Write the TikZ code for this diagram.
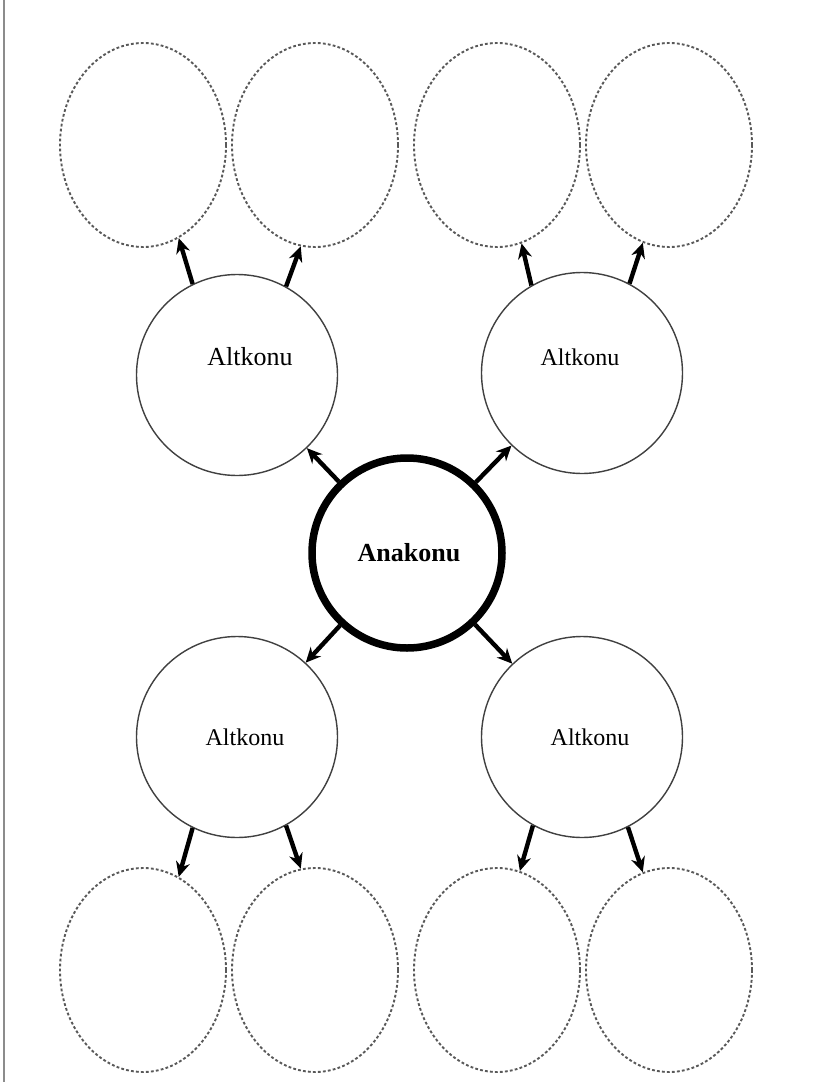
\documentclass[tikz,border=0pt]{standalone}
\usepackage{fontspec}
\setmainfont{Liberation Serif}
\usetikzlibrary{shapes.geometric,arrows.meta}
\begin{document}
\begin{tikzpicture}[x=1pt,y=-1pt,
  sub/.style={circle,draw=black!75,line width=1.4pt,minimum size=201pt,inner sep=0pt},
  main/.style={circle,draw=black,line width=7.5pt,minimum size=190pt,inner sep=0pt},
  leaf/.style={ellipse,draw=black!65,line width=1.9pt,dash pattern=on 2.8pt off 2.2pt,minimum width=166pt,minimum height=204pt,inner sep=0pt},
  arr/.style={line width=4.4pt,-{Stealth[length=15pt,width=14pt]}},
  lbl/.style={font=\fontsize{24}{28}\selectfont,inner sep=0pt}
]
\useasboundingbox (0,0) rectangle (813,1082);
\fill[white] (0,0) rectangle (813,1082);
\draw[black!45,line width=2.5pt] (4,0) -- (4,1082);

% dashed leaves
\node[leaf] (e1) at (143,145) {};
\node[leaf] (e2) at (315,145) {};
\node[leaf] (e3) at (497,145) {};
\node[leaf] (e4) at (669,145) {};
\node[leaf] (e5) at (143,970) {};
\node[leaf] (e6) at (315,970) {};
\node[leaf] (e7) at (497,970) {};
\node[leaf] (e8) at (669,970) {};

% sub topics
\node[sub] (tl) at (237,375) {};
\node[sub] (tr) at (582,373) {};
\node[sub] (bl) at (237,737) {};
\node[sub] (br) at (582,737) {};
\node[lbl,font=\fontsize{26}{30}\selectfont] (ttl) at (250,357) {Altkonu};
\node[lbl] (ttr) at (580,357) {Altkonu};
\node[lbl] (tbl) at (245,737) {Altkonu};
\node[lbl] (tbr) at (590,737) {Altkonu};

% main topic
\node[main] (ana) at (407,553) {};
\node[lbl,font=\fontsize{26}{30}\selectfont\bfseries] (tana) at (409,553) {Anakonu};

% arrows from main
\draw[arr] (ana) -- (tl);
\draw[arr] (ana) -- (tr);
\draw[arr] (ana) -- (bl);
\draw[arr] (ana) -- (br);

% arrows to leaves
\draw[arr] (tl.116) -- (e1.-69);
\draw[arr] (tl.61) -- (e2.-98);
\draw[arr] (tr.120) -- (e3.-76);
\draw[arr] (tr.62) -- (e4.-105);
\draw[arr] (bl.-116) -- (e5.69);
\draw[arr] (bl.-61) -- (e6.98);
\draw[arr] (br.-119) -- (e7.77);
\draw[arr] (br.-63) -- (e8.105);
\end{tikzpicture}
\end{document}
